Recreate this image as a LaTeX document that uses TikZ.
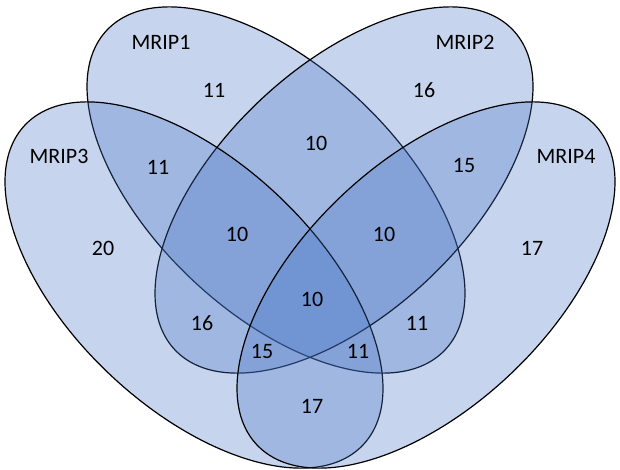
\documentclass[tikz,border=0pt]{standalone}
\usepackage{fontspec}
\setmainfont{Carlito}
\definecolor{vennblue}{RGB}{68,114,196}
\begin{document}
\begin{tikzpicture}[x=1pt,y=-1pt,
  setshape/.style={draw=black, line width=1.2pt, fill=vennblue, fill opacity=0.3},
  lbl/.style={font=\fontsize{22}{26}\selectfont, text=black, inner sep=0pt}]
\useasboundingbox (0,0) rectangle (620,469);
% ellipses
\draw[setshape, shift={(276,190)}, rotate=-43.4] (0,0) ellipse [x radius=232.7, y radius=122.8];
\draw[setshape, shift={(344,190)}, rotate=43.4] (0,0) ellipse [x radius=232.7, y radius=122.8];
\draw[setshape, shift={(194,285)}, rotate=-43.4] (0,0) ellipse [x radius=232.7, y radius=122.8];
\draw[setshape, shift={(426,285)}, rotate=43.4] (0,0) ellipse [x radius=232.7, y radius=122.8];
% set names
\node[lbl] (n1) at (161,42) {MRIP1};
\node[lbl] (n2) at (465,42) {MRIP2};
\node[lbl] (n3) at (59,156) {MRIP3};
\node[lbl] (n4) at (566,156) {MRIP4};
% region counts
\node[lbl] (r1) at (214,90) {11};
\node[lbl] (r2) at (424,90) {16};
\node[lbl] (r12) at (316,143) {10};
\node[lbl] (r13) at (158,167) {11};
\node[lbl] (r24) at (464,165) {15};
\node[lbl] (r3) at (103,248) {20};
\node[lbl] (r4) at (532,248) {17};
\node[lbl] (r123) at (237,234) {10};
\node[lbl] (r124) at (384,234) {10};
\node[lbl] (r1234) at (312,299) {10};
\node[lbl] (r23) at (202,323) {16};
\node[lbl] (r14) at (417,323) {11};
\node[lbl] (r234) at (262,351) {15};
\node[lbl] (r134) at (358,351) {11};
\node[lbl] (r34) at (312,406) {17};
\end{tikzpicture}
\end{document}
